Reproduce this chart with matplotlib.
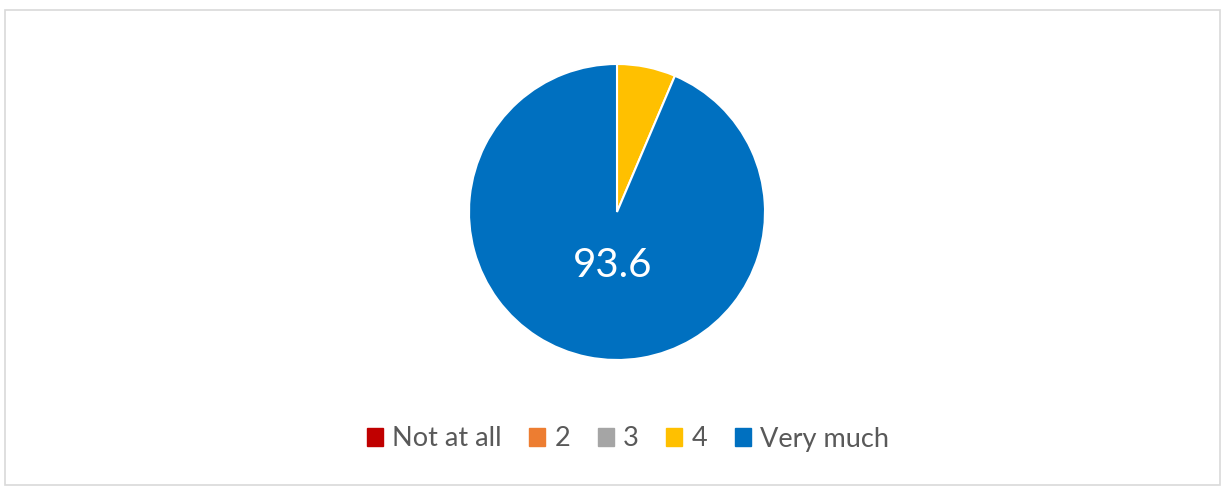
import matplotlib.pyplot as plt
from matplotlib.patches import Rectangle

# answers to the question, percent
categories = ['Not at all', '2', '3', '4', 'Very much']
values = [0.0, 0.0, 0.0, 6.4, 93.6]
colors = ['#C00000', '#ED7D31', '#A5A5A5', '#FFC000', '#0070C0']

plt.rcParams['font.family'] = ['Lato', 'DejaVu Sans']

fig = plt.figure(figsize=(12.25, 4.87), dpi=100)

# chart frame
fig.patches.append(Rectangle((5 / 1225, 2 / 487), 1215 / 1225, 475 / 487,
                             transform=fig.transFigure, fill=False,
                             edgecolor='#D9D9D9', linewidth=1.2))

# pie area: center (617, 212), radius ~148 px
r = 148
ax = fig.add_axes([(617 - r) / 1225, 1 - (212 + r) / 487, 2 * r / 1225, 2 * r / 487])
wedges, _ = ax.pie(values, colors=colors, startangle=90, counterclock=False,
                   wedgeprops=dict(edgecolor='white', linewidth=1.5))
ax.set_aspect('equal')
ax.set_xlim(-1, 1)
ax.set_ylim(-1, 1)

# only the big slice is labelled
ax.text(-0.03, -0.36, '93.6', color='white', fontsize=29,
        ha='center', va='center')

handles = [Rectangle((0, 0), 1, 1, color=c) for c in colors]
fig.legend(handles, categories, loc='center', bbox_to_anchor=(628 / 1225, 1 - 439 / 487),
           ncol=5, frameon=False, fontsize=19.5, labelcolor='#595959',
           handlelength=0.6, handleheight=0.6, handletextpad=0.35, columnspacing=1.0)

fig.savefig('out.png', dpi=100)
